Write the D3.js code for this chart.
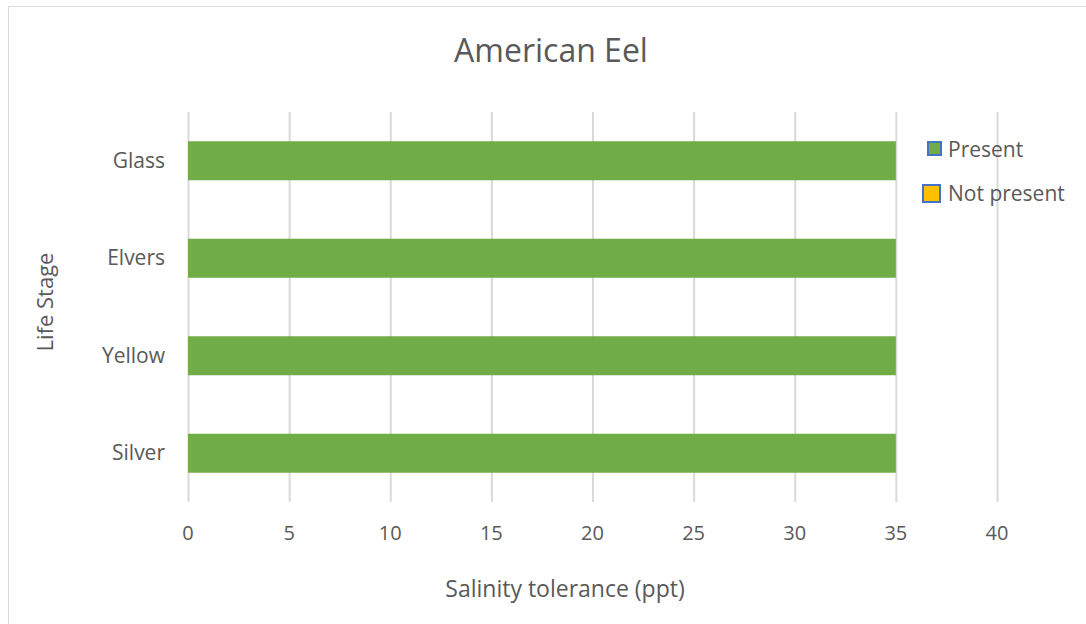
<!DOCTYPE html>
<html><head><meta charset="utf-8">
<script src="https://cdn.jsdelivr.net/npm/d3@7"></script>
<style>body{margin:0;background:#fff}text{font-family:"Open Sans",sans-serif;fill:#595959}</style>
</head><body><svg id="c" width="1086" height="624"></svg>
<script>
const categories = ["Glass","Elvers","Yellow","Silver"];
const presentValues = [35,35,35,35];
const notPresentValues = [0,0,0,0];
const xTicks = [0,5,10,15,20,25,30,35,40];
const legendLabels = ["Present","Not present"];
const colors = ["#70ad47","#ffc000"];

const svg = d3.select("#c");
svg.append("rect").attr("x",8.5).attr("y",6.5).attr("width",1090).attr("height",630).attr("fill","#fff").attr("stroke","#d9d9d9");

const x = d3.scaleLinear().domain([0,40]).range([188,997]);
const y = d3.scaleBand().domain(categories).range([112,502]).paddingInner(0.6).paddingOuter(0.3);

svg.append("g").selectAll("line").data(xTicks).join("line")
  .attr("x1",d=>x(d)+0.5).attr("x2",d=>x(d)+0.5).attr("y1",112).attr("y2",502)
  .attr("stroke","#d9d9d9").attr("stroke-width",2);

svg.append("g").selectAll("rect").data(categories).join("rect")
  .attr("x",x(0)).attr("y",d=>y(d)).attr("height",y.bandwidth())
  .attr("width",(d,i)=>x(presentValues[i])-x(0)).attr("fill",colors[0]);

svg.append("g").selectAll("text").data(xTicks).join("text")
  .attr("x",d=>x(d)).attr("y",540).attr("text-anchor","middle").attr("font-size",20).text(d=>d);

svg.append("g").selectAll("text").data(categories).join("text")
  .attr("x",165).attr("y",d=>y(d)+y.bandwidth()/2+7).attr("text-anchor","end").attr("font-size",21).text(d=>d);

svg.append("text").attr("x",551).attr("y",62).attr("text-anchor","middle").attr("font-size",32).text("American Eel");
svg.append("text").attr("x",565).attr("y",597).attr("text-anchor","middle").attr("font-size",23).text("Salinity tolerance (ppt)");
svg.append("text").attr("transform","translate(53,302) rotate(-90)").attr("text-anchor","middle").attr("font-size",22).text("Life Stage");

const lg = [{x:928,y:142,s:13,t:157},{x:923,y:185,s:17,t:201}];
lg.forEach((l,i)=>{
  svg.append("rect").attr("x",l.x).attr("y",l.y).attr("width",l.s).attr("height",l.s)
    .attr("fill",colors[i]).attr("stroke","#4472c4").attr("stroke-width",2);
  svg.append("text").attr("x",948).attr("y",l.t).attr("font-size",21).text(legendLabels[i]);
});
</script></body></html>
